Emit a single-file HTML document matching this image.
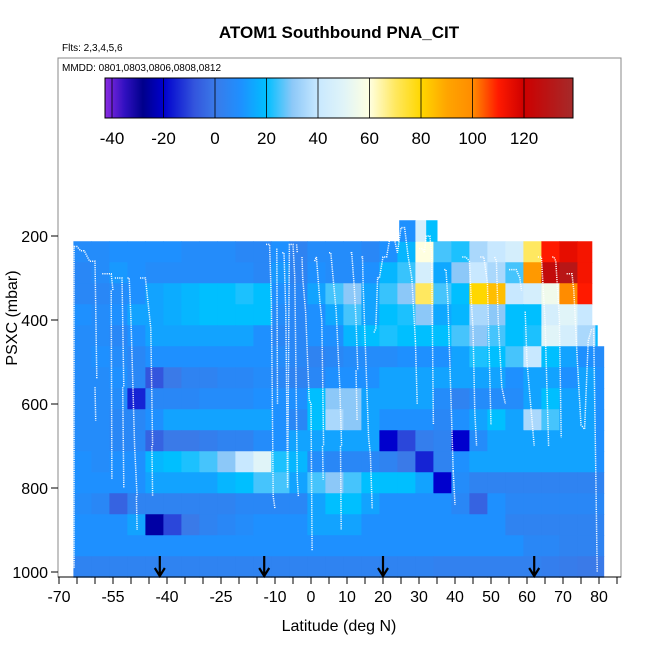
<!DOCTYPE html>
<html><head><meta charset="utf-8">
<style>
body{margin:0;background:#fff;}
svg{display:block;font-family:"Liberation Sans",sans-serif;}
</style></head>
<body>
<svg id="chart" width="650" height="650" viewBox="0 0 650 650" xmlns="http://www.w3.org/2000/svg">
<defs>
<linearGradient id="cbar" x1="0" x2="1" y1="0" y2="0">
</linearGradient>
</defs>
<text x="339" y="38" text-anchor="middle" font-size="17" font-weight="bold">ATOM1 Southbound PNA_CIT</text>
<text x="62" y="51" font-size="10">Flts: 2,3,4,5,6</text>
<rect x="58" y="58" width="563" height="519" fill="none" stroke="#888" stroke-width="1"/>
<text x="62" y="71" font-size="10">MMDD: 0801,0803,0806,0808,0812</text>
<g id="heat"></g>
<g id="track"></g>
<g id="cb"></g>
<g id="axes"></g>
<text x="339" y="631" text-anchor="middle" font-size="16">Latitude (deg N)</text>
<text transform="translate(17,318) rotate(-90)" text-anchor="middle" font-size="16">PSXC (mbar)</text>
</svg>
<script>
const latEdges=[-66,-61,-56,-51,-46,-41,-36,-31,-26,-21,-16,-11,-6,-1,4,9,14,19,24,29,34,39,44,49,54,59,64,69,74,79,81.3];
const pCenters=[237.5,287.5,337.5,387.5,437.5,487.5,537.5,587.5,637.5,687.5,737.5,787.5,837.5,887.5,937.5,987.5];
const rowEndLat=[78,78,78,78,79.5,81.3,81.3,81.3,81.3,81.3,81.3,81.3,81.3,81.3,81.3,81.3];
const N=null;
const grid=[
[8,8,10,10,10,10,8,8,8,6,6,10,4,8,8,8,6,10,18,60,25,22,35,40,45,70,110,115,112,N],
[6,8,12,10,8,8,8,8,8,8,6,12,4,10,8,8,10,18,24,45,15,30,40,35,25,95,125,130,112,N],
[6,6,8,10,14,16,18,20,20,22,20,10,6,14,25,30,14,24,30,70,25,20,80,85,40,45,55,100,110,N],
[10,8,10,14,14,16,18,20,20,20,20,8,6,10,15,25,14,20,22,30,15,18,35,30,20,20,45,50,40,N],
[8,8,6,10,14,14,14,14,14,14,10,6,6,10,10,18,20,22,20,20,20,25,30,25,20,22,50,45,35,18],
[8,10,8,6,10,10,10,10,10,10,10,8,6,4,6,8,8,8,10,10,10,14,22,20,25,40,20,14,10,8],
[8,8,10,6,-8,0,4,4,6,6,8,6,4,6,10,10,10,14,14,14,14,14,14,14,10,14,14,10,14,10],
[8,8,8,-15,6,6,6,8,8,8,10,10,10,20,30,30,14,14,14,14,8,4,8,8,8,14,20,14,14,10],
[8,8,6,6,10,14,14,14,14,14,14,10,6,20,35,30,14,10,10,10,6,10,14,20,14,35,25,14,14,10],
[8,8,6,6,-5,0,0,2,4,4,8,10,14,14,14,14,14,-20,-10,2,4,-20,8,14,14,14,14,14,14,10],
[10,8,10,10,18,20,22,25,30,40,50,22,18,8,6,6,6,4,0,-15,4,10,14,14,14,14,14,14,14,10],
[10,10,10,10,14,14,14,14,18,20,25,25,14,25,30,25,20,20,20,14,-20,8,4,4,4,4,4,4,4,4],
[8,6,-5,4,4,4,4,4,4,6,6,6,6,14,20,20,14,10,10,10,10,6,-5,10,6,6,6,6,6,6],
[10,10,10,14,-25,-10,0,4,6,8,10,10,10,14,14,14,10,10,10,10,10,10,10,10,4,4,4,4,4,4],
[10,10,10,10,10,10,10,10,10,10,10,10,10,10,10,10,10,10,10,10,10,10,10,10,10,6,6,4,4,4],
[4,4,4,4,4,4,4,4,4,4,4,4,4,4,4,4,4,4,4,4,3,3,3,3,3,3,2,1,0,0]
];
const topLatEdges=[24.5,29,32,35];
const topValues=[10,45,20];
const topP=187.5;
// flight track: null separates segments
const trackLat=[-65.8,-65.8,-65,-64,-63,-61.5,-61,-60,-59.5,null,-60,-59.8,null,-58,-57.8,-56,-55.5,-55,null,-55.5,-55.3,null,-54.5,-54,-53,-52.5,-52,null,-52.3,-52,null,-51,-50.5,-50,-49,-48.3,null,-48.5,-48.3,null,-47.5,-47,-46,-44.5,-44,null,-44.2,-44,null,-12.5,-12.3,-11.5,-11,-10.5,-10,null,-9.5,-9.3,null,-8,-7.5,-7,-6.5,-6,-5,-4.5,-3.8,-3.5,null,-4,-3.8,null,-2.5,-2.3,-1.5,-0.5,0,0.3,null,1,1.5,2.5,3,3.5,null,3.2,3.4,null,5,5.5,7,8,8.5,null,8.2,8.4,null,11,11.3,12,12.5,13,null,12.5,12.8,null,14,14.3,14.5,15,15.5,16,16.5,17,null,17.5,18,18.5,19,20,21,22,23,24,25,26,27,28,29,null,29,29.5,null,30,31,31.5,32,33,33.5,34,null,37,37.5,38,39,39.5,null,39.5,40,null,42,43,44,44.5,45,45.5,46,null,47,48,49,50,null,51,51.5,52,53,54,null,55,56,57,58,58.5,null,59.5,60,61,61.5,62,null,63,64,65,66,null,67,67.5,68,69,69.5,null,71,72,72.5,73,74,75,76,77,78,null,78.5,79,79.5];
const trackP=[990,225,225,235,235,260,260,260,540,null,560,640,null,290,290,290,290,330,null,330,780,null,300,300,300,300,560,null,560,800,null,300,300,400,700,820,null,820,900,null,300,300,300,420,700,null,700,820,null,220,220,220,360,820,850,null,230,600,null,240,240,380,800,220,220,300,780,820,null,220,240,null,250,300,380,590,600,950,null,260,250,360,400,700,null,700,780,null,240,240,380,560,700,null,700,900,null,240,240,320,400,520,null,520,640,null,250,250,320,440,560,680,720,850,null,430,420,300,300,250,250,200,200,240,180,180,250,300,450,null,450,600,null,230,230,240,200,200,240,650,null,280,280,350,620,760,null,760,840,null,250,250,260,350,420,620,700,null,250,250,310,650,null,250,260,400,560,600,null,280,280,280,300,330,null,380,500,600,650,700,null,250,250,400,700,null,250,250,260,400,680,null,290,290,290,330,500,650,660,450,420,null,420,700,1000];
const arrowLat=[-42,-13,20,62];
const xTicksLabels=[-70,-55,-40,-25,-10,0,10,20,30,40,50,60,70,80];
const yTicks=[200,400,600,800,1000];
const cbTicks=[-40,-20,0,20,40,60,80,100,120];
const cmapVals=[-42.7,-35,-28,-20,-8,0,10,20,30,40,50,60,70,80,90,100,110,120,139];
const cmapCols=["#8a2be2","#3010c0","#00008b","#0000cd","#3355dd","#3a7ae8","#1e90ff","#00bfff","#8cc8f8","#c8e8ff","#e0f4f8","#ffffe0","#ffe860","#ffd700","#ffa500","#ff8c00","#ff1a00","#cd0000","#a52a2a"];

const NS="http://www.w3.org/2000/svg";
const X=lat=>59+(lat+70)*3.6;
const Y=p=>152+p*0.42;
const CB=v=>112+(v+40)*2.575;
function hex(h){return [parseInt(h.substr(1,2),16),parseInt(h.substr(3,2),16),parseInt(h.substr(5,2),16)];}
function col(v){
  if(v<=cmapVals[0])return cmapCols[0];
  for(let i=1;i<cmapVals.length;i++){
    if(v<=cmapVals[i]){const t=(v-cmapVals[i-1])/(cmapVals[i]-cmapVals[i-1]);
      const a=hex(cmapCols[i-1]),b=hex(cmapCols[i]);
      return "rgb("+a.map((c,k)=>Math.round(c+(b[k]-c)*t)).join(",")+")";}
  }
  return cmapCols[cmapCols.length-1];
}
function mk(tag,attrs,parent){const e=document.createElementNS(NS,tag);for(const k in attrs)e.setAttribute(k,attrs[k]);parent.appendChild(e);return e;}
const heat=document.getElementById('heat');
grid.forEach((row,r)=>{
  row.forEach((v,c)=>{
    if(v===null)return;
    const l0=latEdges[c],l1=Math.min(latEdges[c+1],rowEndLat[r]);
    if(l1<=l0)return;
    const e=mk('rect',{x:X(l0),y:Y(pCenters[r]-25),width:X(l1)-X(l0)+0.5,height:Y(pCenters[r]+25)-Y(pCenters[r]-25)+0.5,fill:col(v)},heat);
    
    
  });
});
topValues.forEach((v,i)=>{
  const e=mk('rect',{x:X(topLatEdges[i]),y:Y(topP-25),width:X(topLatEdges[i+1])-X(topLatEdges[i])+0.5,height:21.5,fill:col(v)},heat);
  
  
});
const track=document.getElementById('track');
let d="",start=true;
trackLat.forEach((l,i)=>{
  if(l===null){start=true;return;}
  d+=(start?"M":"L")+X(l).toFixed(1)+" "+Y(trackP[i]).toFixed(1)+" ";start=false;
});
const tp=mk('path',{d:d,fill:"none",stroke:"#fff","stroke-width":1.5,"stroke-dasharray":"1.2 1","opacity":0.95},track);


// colorbar
const cb=document.getElementById('cb');
const g=document.getElementById('cbar');
cmapVals.forEach((v,i)=>{mk('stop',{offset:((CB(v)-105)/468),"stop-color":cmapCols[i]},g);});
const cr=mk('rect',{x:105,y:78,width:468,height:40,fill:"url(#cbar)",stroke:"#000","stroke-width":1},cb);


cbTicks.forEach(t=>{
  mk('line',{x1:CB(t),x2:CB(t),y1:78,y2:118,stroke:"#000","stroke-width":0.8},cb);
  const tx=mk('text',{x:CB(t),y:144,"text-anchor":"middle","font-size":17},cb);tx.textContent=t;
  
  
});
// axes
const ax=document.getElementById('axes');
mk('line',{x1:58,x2:621,y1:577,y2:577,stroke:"#000","stroke-width":1},ax);
for(let l=-70;l<=85;l+=5){mk('line',{x1:X(l),x2:X(l),y1:577,y2:584,stroke:"#000"},ax);}
xTicksLabels.forEach(t=>{const tx=mk('text',{x:X(t),y:602,"text-anchor":"middle","font-size":16},ax);tx.textContent=t;
  
  });
yTicks.forEach(t=>{mk('line',{x1:51,x2:58,y1:Y(t),y2:Y(t),stroke:"#000"},ax);
  const tx=mk('text',{x:48,y:Y(t)+6,"text-anchor":"end","font-size":16},ax);tx.textContent=t;
  
  });
arrowLat.forEach(l=>{const x=X(l);
  const a=mk('path',{d:`M${x} 556 L${x} 575 M${x-5} 568 L${x} 576 L${x+5} 568`,stroke:"#000","stroke-width":2.2,fill:"none"},ax);
  
  });
</script>
</body></html>
